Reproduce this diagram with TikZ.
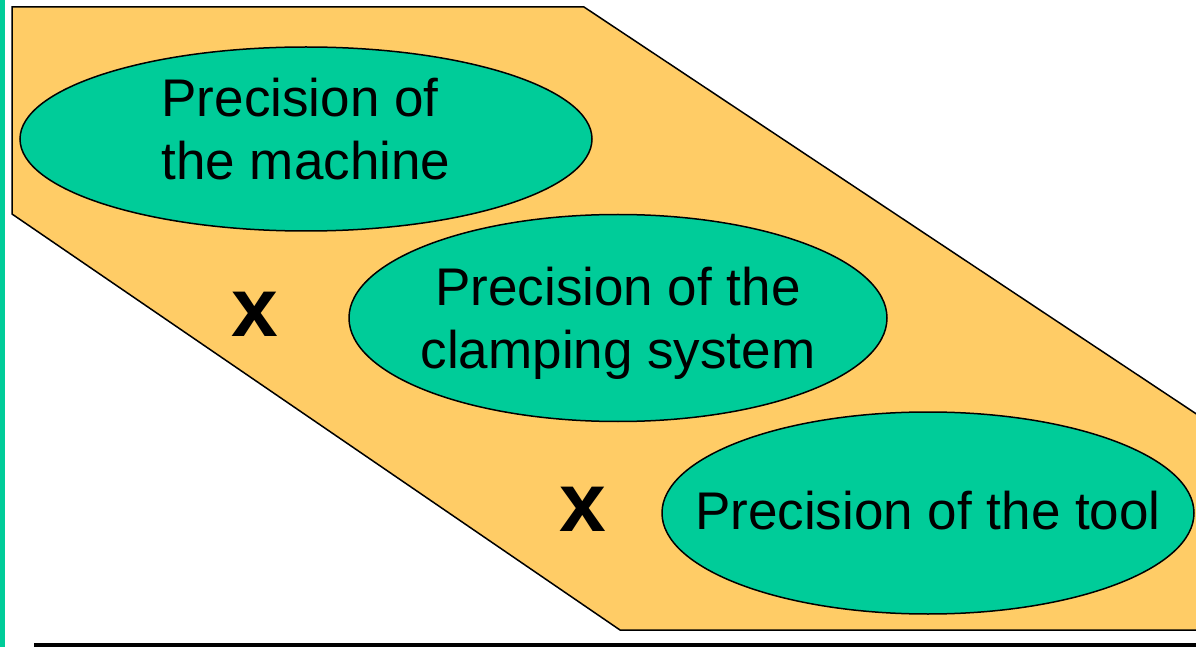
\documentclass[tikz,border=0pt]{standalone}
\usepackage{fontspec}
\setmainfont{Liberation Sans}
\usetikzlibrary{shapes.geometric}
\definecolor{bandfill}{HTML}{FFCC66}
\definecolor{precteal}{HTML}{00CC99}
\tikzset{
    blob/.style={ellipse, draw=black, line width=0.75pt, fill=precteal, inner sep=0pt},
    lbl/.style={font=\fontsize{26.5}{31.5}\selectfont, align=center, inner sep=0pt},
    times/.style={font=\fontsize{42}{42}\selectfont\bfseries, inner sep=0pt}
}
\begin{document}
\begin{tikzpicture}[x=0.5pt, y=-0.5pt]
    % frame of the picture
    \useasboundingbox (0,0) rectangle (1196,647);
    \clip (0,0) rectangle (1196,647);
    % the band behind the factors
    \filldraw[fill=bandfill, draw=black, line width=0.75pt]
        (12,7) -- (584,7) -- (1210,423) -- (1210,630) -- (620,630) -- (12,214) -- cycle;
    % the three factors
    \node[blob, minimum width=286pt, minimum height=92pt,
          label={[lbl, align=left, yshift=5pt]center:Precision of\\the machine}] (machine) at (306,139) {};
    \node[blob, minimum width=269pt, minimum height=103.5pt,
          label={[lbl, yshift=-2.5pt]center:Precision of the\\clamping system}] (clamping) at (618,318) {};
    \node[blob, minimum width=266pt, minimum height=101pt,
          label={[lbl, yshift=1pt]center:Precision of the tool}] (tool) at (928,513) {};
    % the products
    \node[times] (times1) at (255,314) {x};
    \node[times] (times2) at (583,509) {x};
    % edge rules
    \fill[precteal] (0,0) rectangle (5,647);
    \fill[black] (34,643) rectangle (1196,647);
\end{tikzpicture}
\end{document}
